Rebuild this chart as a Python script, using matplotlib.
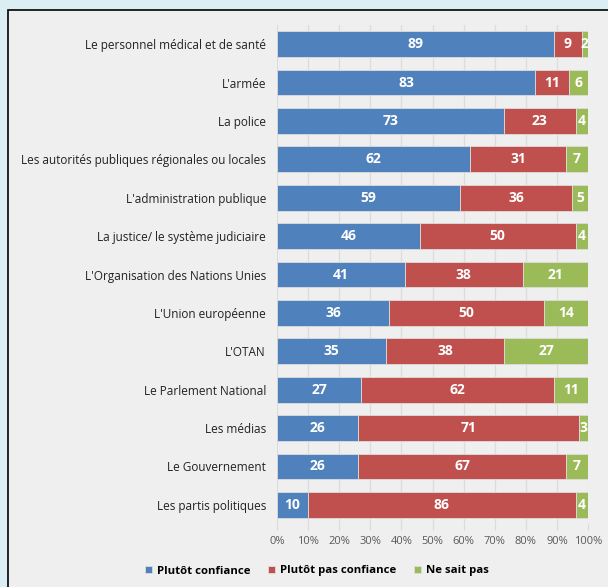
import numpy as np
import matplotlib.pyplot as plt
from matplotlib.patches import Rectangle

categories = [
    "Le personnel médical et de santé",
    "L'armée",
    "La police",
    "Les autorités publiques régionales ou locales",
    "L'administration publique",
    "La justice/ le système judiciaire",
    "L'Organisation des Nations Unies",
    "L'Union européenne",
    "L'OTAN",
    "Le Parlement National",
    "Les médias",
    "Le Gouvernement",
    "Les partis politiques",
]
confiance = [89, 83, 73, 62, 59, 46, 41, 36, 35, 27, 26, 26, 10]
pas_confiance = [9, 11, 23, 31, 36, 50, 38, 50, 38, 62, 71, 67, 86]
ne_sait_pas = [2, 6, 4, 7, 5, 4, 21, 14, 27, 11, 3, 7, 4]

series = [
    ("Plutôt confiance", confiance, "#4F81BD"),
    ("Plutôt pas confiance", pas_confiance, "#C0504D"),
    ("Ne sait pas", ne_sait_pas, "#9BBB59"),
]

plt.rcParams['font.family'] = ['Open Sans', 'DejaVu Sans']

fig = plt.figure(figsize=(6.08, 5.87), dpi=100)
fig.patch.set_facecolor('#DBEEF4')
# inner panel with black frame
panel = Rectangle((8 / 608, -0.01), 1.0, 1.01 - 10 / 587, transform=fig.transFigure,
                  facecolor='#EFEFEF', edgecolor='black', linewidth=1.2, zorder=-1)
fig.patches.append(panel)

ax = fig.add_axes([277 / 608, 1 - 524 / 587, 311 / 608, 499 / 587])
ax.set_zorder(2)
ax.set_facecolor('none')

y = np.arange(len(categories))
left = np.zeros(len(categories))
for name, vals, color in series:
    vals = np.array(vals, dtype=float)
    ax.barh(y, vals, left=left, height=0.67, color=color, label=name,
            edgecolor='#DDDDDD', linewidth=0.6, zorder=2)
    for yi, l, v in zip(y, left, vals):
        ax.text(l + v / 2, yi, f"{int(v)}", ha='center', va='center',
                color='white', fontsize=10, fontweight='bold', zorder=3)
    left += vals

ax.set_xlim(0, 100)
ax.set_ylim(len(categories) - 0.5, -0.5)
ax.set_yticks(y)
ax.set_yticklabels(categories, fontsize=8.5, color='#222222')
ax.tick_params(axis='y', length=0, pad=8)
ax.set_xticks(np.arange(0, 101, 10))
ax.set_xticklabels([f"{v}%" for v in range(0, 101, 10)], fontsize=8, color='#595959')
ax.tick_params(axis='x', length=4, color='#D9D9D9', pad=5)
ax.grid(axis='x', color='#DCDCDC', linewidth=0.9, zorder=0)
ax.set_axisbelow(True)
for s in ax.spines.values():
    s.set_visible(False)

leg = fig.legend(loc='center', bbox_to_anchor=(317 / 608, 1 - 571 / 587), ncol=3, frameon=False,
                 handlelength=0.6, handleheight=0.6, handletextpad=0.4, columnspacing=1.6,
                 prop={'size': 8.2, 'weight': 'bold'})

fig.savefig('out.png', dpi=100, facecolor=fig.get_facecolor())
